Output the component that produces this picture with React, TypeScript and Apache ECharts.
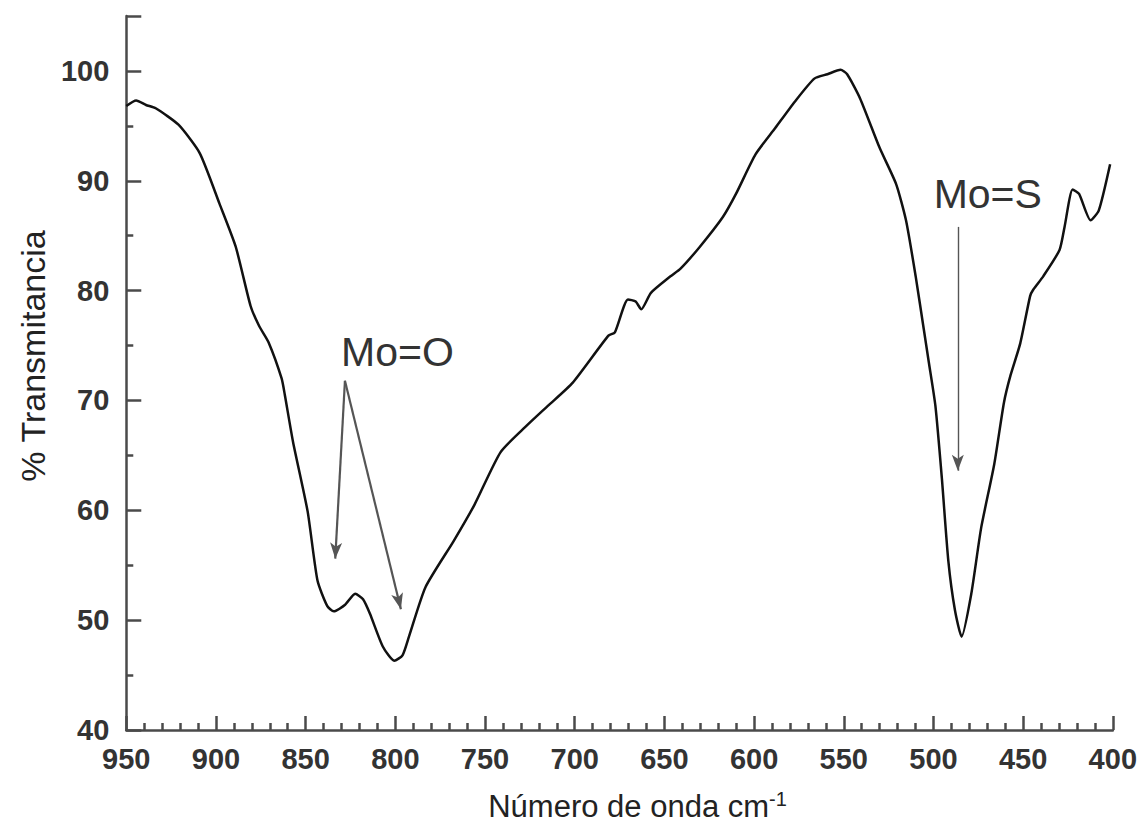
import React, { useEffect, useRef } from "react";
import * as echarts from "echarts";

// Wavenumber (cm-1) and % transmittance
const wavenumbers = [
  950, 944.5, 939, 933.6, 920.9, 909, 898, 889, 880.7, 876, 870.7, 863.4,
  861.6, 857, 848.9, 843.4, 838, 834.3, 828, 822.4, 818, 814.2, 807, 800.6,
  796, 792.4, 783.2, 767.5, 755.9, 741.3, 726.8, 715, 701.2, 681.2, 677.6,
  670.3, 666, 662.9, 657.5, 646.6, 641, 630.2, 617.4, 610.1, 599.2, 588.2,
  577.3, 566.4, 559.1, 551.8, 548.1, 540.9, 530, 520.8, 515.3, 509.9, 505.4,
  502.6, 498.9, 495.3, 491.7, 488, 484.3, 478.9, 473.4, 466.1, 460.7, 457,
  451.6, 446.1, 444.3, 438.8, 429.7, 426.9, 422.4, 418.8, 412.4, 407.8, 401.5,
];
const transmittance = [
  96.8, 97.3, 96.9, 96.6, 95.1, 92.5, 87.9, 84.0, 78.6, 76.8, 75.3, 72.0,
  70.5, 66.2, 59.9, 53.6, 51.3, 50.8, 51.4, 52.4, 51.9, 50.6, 47.6, 46.3,
  46.8, 48.5, 53.0, 57.2, 60.5, 65.3, 67.7, 69.5, 71.6, 75.9, 76.2,
  79.2, 79.0, 78.3, 79.8, 81.3, 82.0, 84.0, 86.7, 88.8, 92.4, 94.8,
  97.2, 99.3, 99.7, 100.1, 99.7, 97.5, 93.0, 89.7, 86.4, 81.3, 76.5,
  73.5, 69.5, 62.9, 55.4, 50.9, 48.5, 52.4, 58.4, 64.2, 69.8, 72.3,
  75.2, 79.5, 80.1, 81.3, 83.7, 85.8, 89.2, 88.8, 86.4, 87.3, 91.5,
];

// Annotations (data coordinates)
const labelTexts = ["Mo=O", "Mo=S"];
const labelCoords = [
  [798.8, 74.4],
  [469.7, 88.8],
];
const arrowStarts = [
  [828.1, 71.8],
  [828.1, 71.8],
  [486.4, 85.8],
];
const arrowEnds = [
  [833.5, 55.6],
  [796.9, 51.0],
  [486.4, 63.6],
];
const arrowWidths = [2.2, 2.2, 1.4];

const FONT = "'Liberation Sans', Arial, Helvetica, sans-serif";

export default function App() {
  const ref = useRef<HTMLDivElement>(null);

  useEffect(() => {
    if (!ref.current) return;
    const chart = echarts.init(ref.current, null, { renderer: "svg" });
    const data = wavenumbers.map((w, i) => [w, transmittance[i]]);
    const axisColor = "#4a4a4a";

    chart.setOption({
      animation: false,
      backgroundColor: "#ffffff",
      grid: { left: 107, right: 19, top: 8, bottom: 90, containLabel: false },
      xAxis: {
        type: "value",
        inverse: true,
        min: 400,
        max: 950,
        interval: 50,
        name: "Número de onda cm{sup|-1}",
        nameLocation: "middle",
        nameGap: 59,
        nameTextStyle: {
          fontFamily: FONT,
          fontSize: 31,
          color: "#222",
          padding: [0, 0, 0, 36],
          rich: {
            sup: { fontFamily: FONT, fontSize: 20, color: "#222", padding: [0, 0, 15, 0] },
          },
        },
        axisLine: { show: true, onZero: false, lineStyle: { color: axisColor, width: 2.5 } },
        axisTick: { show: true, inside: true, length: 14, lineStyle: { color: axisColor, width: 2.5 } },
        minorTick: { show: true, splitNumber: 5, length: 7, lineStyle: { color: axisColor, width: 2.5 } },
        axisLabel: { fontFamily: FONT, fontSize: 29, fontWeight: "bold", color: "#333", margin: 14 },
        splitLine: { show: false },
      },
      yAxis: {
        type: "value",
        min: 40,
        max: 105,
        interval: 10,
        name: "% Transmitancia",
        nameLocation: "middle",
        nameGap: 66,
        nameTextStyle: { fontFamily: FONT, fontSize: 34, color: "#222", padding: [0, 0, 0, 34] },
        axisLine: { show: true, onZero: false, lineStyle: { color: axisColor, width: 2.5 } },
        axisTick: { show: true, inside: true, length: 15, lineStyle: { color: axisColor, width: 2.5 } },
        minorTick: { show: true, splitNumber: 2, length: 7, lineStyle: { color: axisColor, width: 2.5 } },
        axisLabel: {
          fontFamily: FONT,
          fontSize: 29,
          fontWeight: "bold",
          color: "#333",
          margin: 17,
          showMaxLabel: false,
        },
        splitLine: { show: false },
      },
      series: [
        {
          type: "line",
          data,
          smooth: 0.2,
          showSymbol: false,
          symbol: "none",
          lineStyle: { color: "#111", width: 2.5 },
          markLine: {
            silent: true,
            symbol: ["none", "arrow"],
            symbolSize: [9, 16],
            label: { show: false },
            data: arrowStarts.map((s, i) => [
              { coord: s, lineStyle: { color: "#555", width: arrowWidths[i], type: "solid" } },
              { coord: arrowEnds[i] },
            ]),
          },
          markPoint: {
            silent: true,
            symbol: "rect",
            symbolSize: 1,
            itemStyle: { color: "rgba(0,0,0,0)" },
            label: {
              show: true,
              position: "inside",
              fontFamily: FONT,
              fontSize: 41,
              color: "#333",
            },
            data: labelTexts.map((t, i) => ({
              coord: labelCoords[i],
              value: t,
              label: { formatter: t },
            })),
          },
        },
      ],
    });

    return () => chart.dispose();
  }, []);

  return <div ref={ref} style={{ width: 1132, height: 819 }} />;
}
